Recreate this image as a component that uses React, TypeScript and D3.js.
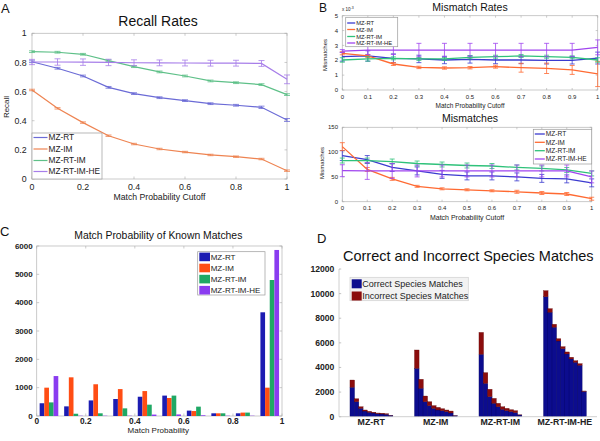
import React from "react";
import * as d3 from "d3";

const FONT = "'Liberation Sans', Arial, Helvetica, sans-serif";

// ---------- shared ----------
const seriesNames = ["MZ-RT", "MZ-IM", "MZ-RT-IM", "MZ-RT-IM-HE"];
const cutoffs = [0, 0.1, 0.2, 0.3, 0.4, 0.5, 0.6, 0.7, 0.8, 0.9, 1];

// ---------- A: recall rates ----------
const recallRT = [0.805, 0.76, 0.707, 0.629, 0.586, 0.558, 0.538, 0.517, 0.506, 0.492, 0.405];
const recallIM = [0.611, 0.485, 0.387, 0.297, 0.24, 0.206, 0.185, 0.165, 0.153, 0.137, 0.057];
const recallRTIM = [0.874, 0.87, 0.856, 0.812, 0.771, 0.735, 0.707, 0.673, 0.661, 0.648, 0.579];
const recallHE = [0.803, 0.803, 0.802, 0.8, 0.798, 0.797, 0.796, 0.795, 0.795, 0.793, 0.684];
const recallErrRT = [0.006, 0.006, 0.006, 0.006, 0.006, 0.006, 0.006, 0.006, 0.006, 0.008, 0.01];
const recallErrIM = [0.005, 0.005, 0.005, 0.005, 0.005, 0.005, 0.005, 0.005, 0.005, 0.005, 0.005];
const recallErrRTIM = [0.006, 0.006, 0.006, 0.006, 0.006, 0.006, 0.006, 0.006, 0.006, 0.006, 0.006];
const recallErrHE = [0.018, 0.022, 0.022, 0.022, 0.02, 0.02, 0.02, 0.02, 0.02, 0.02, 0.03];
const recallXTicks = [0, 0.2, 0.4, 0.6, 0.8, 1];
const recallYTicks = [0, 0.2, 0.4, 0.6, 0.8, 1];

// ---------- B top: mismatch rates (x 10^-3) ----------
const rateRT = [2.24, 2.29, 2.13, 2.09, 2.02, 2.06, 2.02, 2.02, 2.0, 2.0, 2.15];
const rateIM = [2.47, 2.29, 1.75, 1.52, 1.48, 1.5, 1.57, 1.5, 1.46, 1.35, 1.08];
const rateRTIM = [2.02, 2.09, 2.13, 2.09, 2.09, 2.2, 2.24, 2.29, 2.24, 2.2, 2.02];
const rateHE = [2.62, 2.69, 2.69, 2.69, 2.69, 2.69, 2.69, 2.69, 2.69, 2.69, 2.87];
const rateErrRT = [0.3, 0.35, 0.3, 0.25, 0.25, 0.25, 0.25, 0.25, 0.25, 0.25, 0.4];
const rateErrIM = [0.1, 0.1, 0.1, 0.08, 0.08, 0.08, 0.1, 0.3, 0.35, 0.3, 0.85];
const rateErrRTIM = [0.15, 0.15, 0.1, 0.1, 0.1, 0.1, 0.1, 0.1, 0.1, 0.1, 0.15];
const rateErrHE = [0.1, 0.3, 0.3, 0.45, 0.45, 0.45, 0.45, 0.45, 0.45, 0.45, 0.5];
const rateYTicks = [0, 1, 2, 3, 4, 5];

// ---------- B bottom: mismatch counts ----------
const countRT = [93, 85, 69, 62, 55, 52, 52, 50, 47, 46, 38];
const countIM = [111, 65, 46, 31, 26, 24, 22, 20, 17.5, 15.5, 6];
const countRTIM = [83, 83, 81, 77, 75, 73, 72, 69, 67, 64, 57];
const countHE = [62.5, 62, 62, 62, 62, 62, 62, 62, 62, 62, 50];
const countErrRT = [10, 8, 8, 8, 8, 8, 8, 8, 8, 8, 8];
const countErrIM = [8, 4, 3, 2, 2, 2, 2, 3, 3, 3, 3];
const countErrRTIM = [5, 5, 5, 5, 5, 5, 5, 5, 5, 5, 5];
const countErrHE = [12, 17, 15, 12, 12, 12, 12, 12, 12, 12, 12];
const countYTicks = [0, 50, 100, 150];

// ---------- C: match probability of known matches ----------
const probBins = [0.05, 0.15, 0.25, 0.35, 0.45, 0.55, 0.65, 0.75, 0.85, 0.95];
const knownRT = [450, 340, 550, 600, 680, 720, 190, 95, 95, 3660];
const knownIM = [1000, 1365, 1120, 950, 880, 635, 175, 95, 120, 1000];
const knownRTIM = [480, 80, 95, 270, 400, 720, 330, 95, 120, 4800];
const knownHE = [1410, 10, 10, 10, 50, 55, 25, 10, 10, 5860];
const knownXTicks = [0, 0.2, 0.4, 0.6, 0.8, 1];
const knownYTicks = [0, 1000, 2000, 3000, 4000, 5000, 6000];

// ---------- D: correct / incorrect species matches ----------
const speciesCategories = ["MZ-RT", "MZ-IM", "MZ-RT-IM", "MZ-RT-IM-HE"];
const stackNames = ["Correct Species Matches", "Incorrect Species Matches"];
const correctRT = [2390, 1220, 680, 460, 360, 300, 245, 220, 195, 110];
const incorrectRT = [590, 240, 130, 85, 80, 60, 55, 55, 50, 10];
const correctIM = [3930, 2310, 1220, 900, 680, 545, 490, 410, 300, 80];
const incorrectIM = [1490, 730, 460, 320, 220, 215, 160, 135, 160, 10];
const correctRTIM = [5070, 2710, 1630, 1090, 810, 600, 490, 410, 330, 140];
const incorrectRTIM = [1780, 870, 600, 400, 280, 210, 190, 160, 160, 10];
const correctHE = [9750, 8490, 7270, 6150, 5530, 5100, 4690, 4420, 4180, 2050];
const incorrectHE = [490, 290, 240, 190, 160, 160, 140, 130, 130, 40];
const speciesYTicks = [0, 2000, 4000, 6000, 8000, 10000, 12000];

// ---------- colours ----------
const colorsA = ["#6b6bd6", "#ee8452", "#5ec088", "#a77ee9"];
const colorsB = ["#3b3bcf", "#ff6a32", "#2fc27a", "#a044ef"];
const colorsC = ["#1c1cb2", "#ff4d14", "#1fa865", "#8a3cf0"];
const colorsD = ["#0c0c8e", "#8b0d0d"];

const fmt = (v: number) => String(v);

type LP = {
  L: number; R: number; T: number; B: number;
  yMax: number; xTicks: number[]; yTicks: number[];
  series: number[][]; errs: number[][]; colors: string[];
  lw: number; cap: number; fs: number; tickLen: number;
  xLabDy: number; yLabDx: number; yFmt?: (v: number) => string;
};

function LinePlot(p: LP) {
  const x = d3.scaleLinear().domain([0, 1]).range([p.L, p.R]);
  const y = d3.scaleLinear().domain([0, p.yMax]).range([p.B, p.T]);
  const line = d3.line<number>().x((_, i) => x(cutoffs[i])).y((d) => y(d));
  const yf = p.yFmt || fmt;
  return (
    <g>
      <rect x={p.L} y={p.T} width={p.R - p.L} height={p.B - p.T} fill="white" stroke="#bdbdbd" strokeWidth={0.8} />
      {p.xTicks.map((t) => (
        <g key={"x" + t}>
          <line x1={x(t)} x2={x(t)} y1={p.B} y2={p.B - p.tickLen} stroke="#aaa" strokeWidth={0.6} />
          <line x1={x(t)} x2={x(t)} y1={p.T} y2={p.T + p.tickLen} stroke="#aaa" strokeWidth={0.6} />
          <text x={x(t)} y={p.B + p.xLabDy} dy="0.35em" textAnchor="middle" fontSize={p.fs} fill="#222">{fmt(t)}</text>
        </g>
      ))}
      {p.yTicks.map((t) => (
        <g key={"y" + t}>
          <line x1={p.L} x2={p.L + p.tickLen} y1={y(t)} y2={y(t)} stroke="#aaa" strokeWidth={0.6} />
          <line x1={p.R} x2={p.R - p.tickLen} y1={y(t)} y2={y(t)} stroke="#aaa" strokeWidth={0.6} />
          <text x={p.L - p.yLabDx} y={y(t)} dy="0.35em" textAnchor="end" fontSize={p.fs} fill="#222">{yf(t)}</text>
        </g>
      ))}
      {p.series.map((s, k) => (
        <g key={"s" + k}>
          <path d={line(s) || ""} fill="none" stroke={p.colors[k]} strokeWidth={p.lw} />
          {s.map((v, i) => {
            const e = p.errs[k][i];
            const cx = x(cutoffs[i]);
            const c = p.cap / 2;
            return (
              <g key={i} stroke={p.colors[k]} strokeWidth={0.8}>
                <line x1={cx} x2={cx} y1={y(v - e)} y2={y(v + e)} />
                <line x1={cx - c} x2={cx + c} y1={y(v - e)} y2={y(v - e)} />
                <line x1={cx - c} x2={cx + c} y1={y(v + e)} y2={y(v + e)} />
              </g>
            );
          })}
        </g>
      ))}
    </g>
  );
}

function LineLegend(props: { x: number; y: number; w: number; h: number; ys: number[]; colors: string[]; fs: number; seg: number; lw: number }) {
  const { x, y, w, h, ys, colors, fs, seg, lw } = props;
  return (
    <g>
      <rect x={x} y={y} width={w} height={h} fill="white" stroke="#9a9a9a" strokeWidth={0.7} />
      {seriesNames.map((n, i) => (
        <g key={n}>
          <line x1={x + 1.5} x2={x + 1.5 + seg} y1={ys[i]} y2={ys[i]} stroke={colors[i]} strokeWidth={lw} />
          <text x={x + 2.5 + seg} y={ys[i]} dy="0.35em" fontSize={fs} fill="#222">{n}</text>
        </g>
      ))}
    </g>
  );
}

function PanelA() {
  return (
    <g>
      <text x={1} y={13} fontSize={13} fill="#111">A</text>
      <text x={158} y={21} dy="0.35em" textAnchor="middle" fontSize={14} fill="#111">Recall Rates</text>
      <LinePlot L={32} R={287} T={33.3} B={179} yMax={1} xTicks={recallXTicks} yTicks={recallYTicks}
        series={[recallRT, recallIM, recallRTIM, recallHE]}
        errs={[recallErrRT, recallErrIM, recallErrRTIM, recallErrHE]}
        colors={colorsA} lw={1.2} cap={6} fs={8.8} tickLen={2.5} xLabDy={7.7} yLabDx={5.3} />
      <LineLegend x={32} y={133} w={70} h={46} ys={[137.5, 149, 160.5, 171.5]} colors={colorsA} fs={8.3} seg={14} lw={1.2} />
      <text x={159.5} y={197} dy="0.35em" textAnchor="middle" fontSize={8.7} fill="#222">Match Probability Cutoff</text>
      <text transform="translate(6,107) rotate(-90)" dy="0.35em" textAnchor="middle" fontSize={8} fill="#222">Recall</text>
    </g>
  );
}

function PanelB() {
  return (
    <g>
      <text x={319} y={12} fontSize={12} fill="#111">B</text>
      <text x={470} y={7} dy="0.35em" textAnchor="middle" fontSize={10.5} fill="#111">Mismatch Rates</text>
      <LinePlot L={342.3} R={597.7} T={15.7} B={90} yMax={5} xTicks={cutoffs} yTicks={rateYTicks}
        series={[rateRT, rateIM, rateRTIM, rateHE]}
        errs={[rateErrRT, rateErrIM, rateErrRTIM, rateErrHE]}
        colors={colorsB} lw={1.3} cap={5} fs={6} tickLen={2} xLabDy={7} yLabDx={4.3} />
      <text x={342} y={11} fontSize={4.5} fill="#222">x 10<tspan dy={-2} fontSize={3.5}>-3</tspan></text>
      <LineLegend x={345.7} y={17.3} w={52} h={29.4} ys={[23, 29.5, 36.5, 43]} colors={colorsB} fs={5.8} seg={8} lw={1.3} />
      <text x={470} y={105.7} dy="0.35em" textAnchor="middle" fontSize={6.5} fill="#222">Match Probability Cutoff</text>
      <text transform="translate(325,55) rotate(-90)" dy="0.35em" textAnchor="middle" fontSize={6} fill="#222">Mismatches</text>

      <text x={470} y={118.3} dy="0.35em" textAnchor="middle" fontSize={10.5} fill="#111">Mismatches</text>
      <LinePlot L={342.3} R={591.7} T={127.3} B={201.7} yMax={150} xTicks={cutoffs} yTicks={countYTicks}
        series={[countRT, countIM, countRTIM, countHE]}
        errs={[countErrRT, countErrIM, countErrRTIM, countErrHE]}
        colors={colorsB} lw={1.3} cap={5} fs={6} tickLen={2} xLabDy={6.6} yLabDx={4.3} />
      <LineLegend x={533.3} y={129.3} w={58.4} h={34.7} ys={[134, 142.3, 150.7, 159]} colors={colorsB} fs={6.6} seg={10} lw={1.3} />
      <text x={467} y={217.3} dy="0.35em" textAnchor="middle" fontSize={7} fill="#222">Match Probability Cutoff</text>
      <text transform="translate(321.7,163) rotate(-90)" dy="0.35em" textAnchor="middle" fontSize={6} fill="#222">Mismatches</text>
    </g>
  );
}

function PanelC() {
  const L = 36.7, R = 282, T = 246, B = 416;
  const x = d3.scaleLinear().domain([0, 1]).range([L, R]);
  const y = d3.scaleLinear().domain([0, 6000]).range([B, T]);
  const series = [knownRT, knownIM, knownRTIM, knownHE];
  const tl = 2.5;
  return (
    <g>
      <text x={0} y={236} fontSize={13} fill="#111">C</text>
      <text x={158.3} y={235} dy="0.35em" textAnchor="middle" fontSize={10.4} fill="#111">Match Probability of Known Matches</text>
      <rect x={L} y={T} width={R - L} height={B - T} fill="white" stroke="#bdbdbd" strokeWidth={0.8} />
      {probBins.map((c, i) => {
        const inner = d3.scaleBand<string>().domain(seriesNames).range([x(c - 0.038), x(c + 0.038)]).padding(0);
        return (
          <g key={i}>
            {series.map((s, k) => (
              <rect key={k} x={inner(seriesNames[k])} y={y(s[i])} width={inner.bandwidth()} height={B - y(s[i])} fill={colorsC[k]} />
            ))}
          </g>
        );
      })}
      {knownXTicks.map((t) => (
        <g key={"x" + t}>
          <line x1={x(t)} x2={x(t)} y1={B} y2={B - tl} stroke="#aaa" strokeWidth={0.6} />
          <line x1={x(t)} x2={x(t)} y1={T} y2={T + tl} stroke="#aaa" strokeWidth={0.6} />
          <text x={x(t)} y={B + 5.5} dy="0.35em" textAnchor="middle" fontSize={8.3} fontWeight="bold" fill="#222">{fmt(t)}</text>
        </g>
      ))}
      {knownYTicks.map((t) => (
        <g key={"y" + t}>
          <line x1={L} x2={L + tl} y1={y(t)} y2={y(t)} stroke="#aaa" strokeWidth={0.6} />
          <line x1={R} x2={R - tl} y1={y(t)} y2={y(t)} stroke="#aaa" strokeWidth={0.6} />
          <text x={L - 4} y={y(t)} dy="0.35em" textAnchor="end" fontSize={8} fontWeight="bold" fill="#222">{fmt(t)}</text>
        </g>
      ))}
      <rect x={197.7} y={251.7} width={67.3} height={43.3} fill="white" stroke="#9a9a9a" strokeWidth={0.7} />
      {seriesNames.map((n, i) => {
        const cy = 256.9 + i * 11.1;
        return (
          <g key={n}>
            <rect x={199.3} y={cy - 4.3} width={10.7} height={8.6} fill={colorsC[i]} />
            <text x={210.7} y={cy} dy="0.35em" fontSize={8} fill="#222">{n}</text>
          </g>
        );
      })}
      <text x={158.3} y={430} dy="0.35em" textAnchor="middle" fontSize={8} fill="#222">Match Probability</text>
    </g>
  );
}

function PanelD() {
  const L = 339, R = 597, B = 416.7, T = 269;
  const y = d3.scaleLinear().domain([0, 12000]).range([B, T]);
  const outer = d3.scaleBand<string>().domain(speciesCategories).range([L, R]).paddingInner(0.34).paddingOuter(0.17);
  const correct = [correctRT, correctIM, correctRTIM, correctHE];
  const incorrect = [incorrectRT, incorrectIM, incorrectRTIM, incorrectHE];
  return (
    <g>
      <text x={317} y={243} fontSize={13} fill="#111">D</text>
      <text x={468.3} y={256} dy="0.35em" textAnchor="middle" fontSize={14.5} fill="#111">Correct and Incorrect Species Matches</text>
      <line x1={L} x2={L} y1={T} y2={B} stroke="#c4c4c4" strokeWidth={0.8} />
      {speciesYTicks.map((t) => (
        <g key={t}>
          <line x1={L} x2={L + 2.2} y1={y(t)} y2={y(t)} stroke="#aaa" strokeWidth={0.7} />
          <text x={334.3} y={y(t)} dy="0.35em" textAnchor="end" fontSize={8.6} fontWeight="bold" fill="#222">{fmt(t)}</text>
        </g>
      ))}
      {speciesCategories.map((cat, g) => {
        const idx = correct[g].map((_, i) => String(i));
        const inner = d3.scaleBand<string>().domain(idx).range([outer(cat)!, outer(cat)! + outer.bandwidth()]).padding(0);
        const stack = d3.stack<number>().keys(["c", "i"]).value((i, key) => (key === "c" ? correct[g][i] : incorrect[g][i]))(correct[g].map((_, i) => i));
        return (
          <g key={cat}>
            {stack.map((layer, li) =>
              layer.map((seg, i) => (
                <rect key={li + "-" + i} x={inner(String(i))} y={y(seg[1])} width={inner.bandwidth() + 0.35} height={y(seg[0]) - y(seg[1])}
                  fill={colorsD[li]} stroke={li === 0 ? "#06065a" : "#5a0606"} strokeWidth={0.3} />
              ))
            )}
            <text x={outer(cat)! + outer.bandwidth() / 2} y={422.3} dy="0.35em" textAnchor="middle" fontSize={8.8} fontWeight="bold" fill="#222">{cat}</text>
          </g>
        );
      })}
      <line x1={L} x2={R} y1={B} y2={B} stroke="#c4c4c4" strokeWidth={0.8} />
      <rect x={350} y={277.3} width={118.3} height={23.4} fill="#f2f2f2" stroke="#d0d0d0" strokeWidth={0.7} />
      {stackNames.map((n, i) => {
        const cy = 283.8 + i * 12.2;
        return (
          <g key={n}>
            <rect x={351.7} y={cy - 4.5} width={10} height={9} fill={colorsD[i]} />
            <text x={362.3} y={cy} dy="0.35em" fontSize={9} fill="#222">{n}</text>
          </g>
        );
      })}
    </g>
  );
}

export default function App() {
  return (
    <svg width={600} height={441} viewBox="0 0 600 441" style={{ position: "absolute", left: 0, top: 0, background: "white" }} fontFamily={FONT}>
      <rect x={0} y={0} width={600} height={441} fill="white" />
      <PanelA />
      <PanelB />
      <PanelC />
      <PanelD />
    </svg>
  );
}
